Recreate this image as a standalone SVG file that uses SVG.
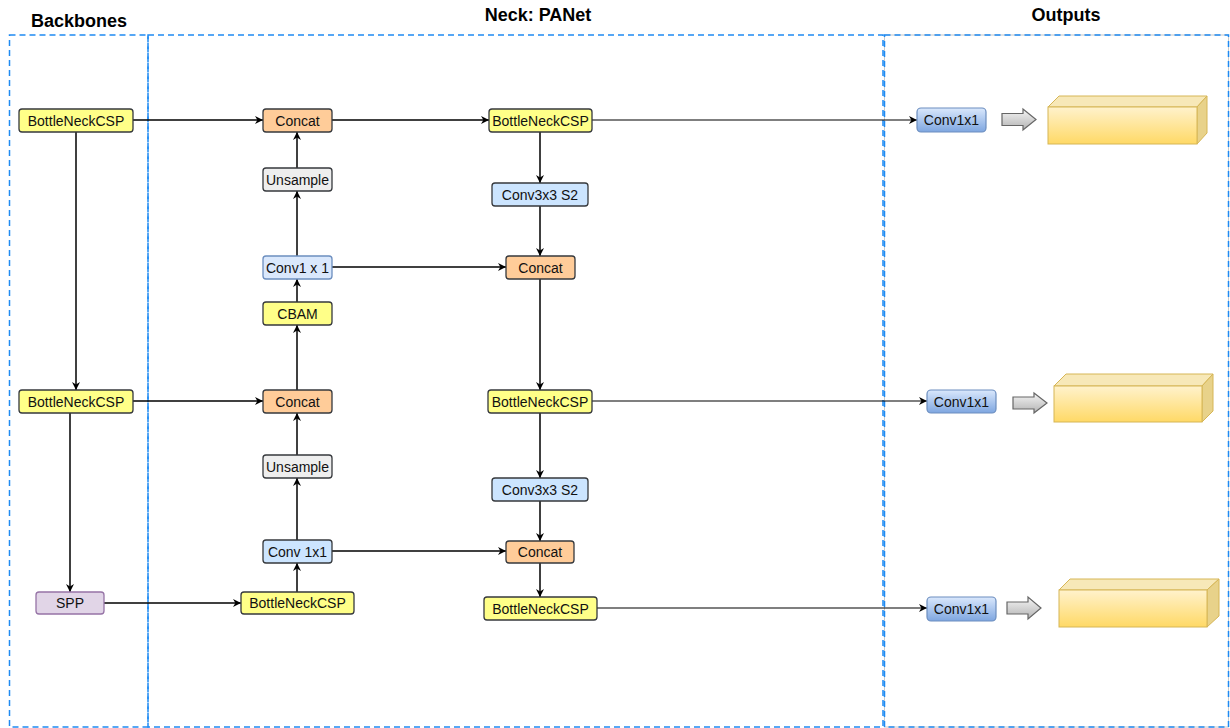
<svg xmlns="http://www.w3.org/2000/svg" width="1230" height="728" viewBox="0 0 1230 728">
  <style>
    .frame { fill: none; stroke: #1f8af2; stroke-width: 1.5; stroke-dasharray: 6 4; }
    .title { font-family: "Liberation Sans", Arial, sans-serif; font-size: 18px; font-weight: bold; fill: #000; text-anchor: middle; }
    .lbl { font-family: "Liberation Sans", Arial, sans-serif; font-size: 14px; fill: #111; text-anchor: middle; dominant-baseline: central; }
    .box { stroke: #36393d; stroke-width: 1.3; }
    .yellow { fill: #ffff88; }
    .orange { fill: #ffcc99; }
    .grey { fill: #eeeeee; }
    .blue { fill: #cce5ff; }
    .blue2 { fill: #dae8fc; stroke: #6c8ebf; stroke-width: 1.3; }
    .purple { fill: #e1d5e7; stroke: #9673a6; stroke-width: 1.3; }
    .outconv { fill: url(#gConv); stroke: #6c8ebf; stroke-width: 1.2; }
    .wire { fill: none; stroke: #000; stroke-width: 1.5; marker-end: url(#arr); }
    .wire.thin { stroke-width: 1.2; }
    .blockarrow { fill: url(#gArrow); stroke: #666666; stroke-width: 1.2; }
    .cubefront { fill: url(#gCube); stroke: #d6b656; stroke-width: 1; }
    .cubetop { fill: #f7e8b8; stroke: #d6b656; stroke-width: 1; }
    .cubeside { fill: #e8d28a; stroke: #d6b656; stroke-width: 1; }
  </style>
  <defs>
    <marker id="arr" viewBox="0 0 10 10" refX="10" refY="5" markerWidth="9" markerHeight="8" markerUnits="userSpaceOnUse" orient="auto">
      <path d="M0,0 L10,5 L0,10 L3,5 z" fill="#000"/>
    </marker>
    <linearGradient id="gConv" x1="0" y1="0" x2="0" y2="1">
      <stop offset="0" stop-color="#dae8fc"/>
      <stop offset="1" stop-color="#7ea6e0"/>
    </linearGradient>
    <linearGradient id="gArrow" x1="0" y1="0" x2="0" y2="1">
      <stop offset="0" stop-color="#f5f5f5"/>
      <stop offset="1" stop-color="#b3b3b3"/>
    </linearGradient>
    <linearGradient id="gCube" x1="0" y1="0" x2="0" y2="1">
      <stop offset="0" stop-color="#fff2cc"/>
      <stop offset="1" stop-color="#ffd966"/>
    </linearGradient>
  </defs>

  <rect width="1230" height="728" fill="#ffffff"/>

  <!-- section frames -->
  <g id="frames">
    <rect x="884.5" y="35" width="344" height="692" fill="none" stroke="#c8c8c8" stroke-width="1"/>
    <rect class="frame" x="9.5" y="35" width="138.5" height="692"/>
    <rect class="frame" x="148" y="35" width="735" height="692"/>
    <rect class="frame" x="884.5" y="35" width="344" height="692"/>
    <text class="title" x="79" y="27">Backbones</text>
    <text class="title" x="538" y="21">Neck: PANet</text>
    <text class="title" x="1066" y="21">Outputs</text>
  </g>

  <!-- connectors -->
  <g id="connectors">
    <path class="wire" d="M133,120 H263"/>
    <path class="wire" d="M332,120 H489"/>
    <path class="wire thin" d="M592,120 H917"/>
    <path class="wire" d="M76,132 V390"/>
    <path class="wire" d="M70,413 V592"/>
    <path class="wire" d="M133,401 H263"/>
    <path class="wire" d="M104,603 H241"/>
    <path class="wire" d="M297,592 V563"/>
    <path class="wire" d="M297,540 V478"/>
    <path class="wire" d="M297,455 V413"/>
    <path class="wire" d="M297,390 V325"/>
    <path class="wire" d="M297,302 V279"/>
    <path class="wire" d="M297,256 V191"/>
    <path class="wire" d="M297,168 V132"/>
    <path class="wire" d="M332,267 H506"/>
    <path class="wire" d="M540,132 V183"/>
    <path class="wire" d="M540,206 V256"/>
    <path class="wire" d="M540,279 V390"/>
    <path class="wire thin" d="M592,401 H927"/>
    <path class="wire" d="M540,413 V478"/>
    <path class="wire" d="M540,501 V541"/>
    <path class="wire" d="M332,551 H506"/>
    <path class="wire" d="M540,563 V597"/>
    <path class="wire thin" d="M597,608 H927"/>
  </g>

  <!-- backbone nodes -->
  <g id="bb-csp1"><rect class="box yellow" x="19" y="109" width="114" height="23" rx="3"/><text class="lbl" x="76" y="120.5">BottleNeckCSP</text></g>
  <g id="bb-csp2"><rect class="box yellow" x="19" y="390" width="114" height="23" rx="3"/><text class="lbl" x="76" y="401.5">BottleNeckCSP</text></g>
  <g id="bb-spp"><rect class="purple" x="36" y="592" width="68" height="22" rx="3"/><text class="lbl" x="70" y="603">SPP</text></g>

  <!-- neck: top-down path -->
  <g id="concat-a"><rect class="box orange" x="263" y="109" width="69" height="23" rx="3"/><text class="lbl" x="297.5" y="120.5">Concat</text></g>
  <g id="upsample-a"><rect class="box grey" x="263" y="168" width="69" height="23" rx="3"/><text class="lbl" x="297.5" y="179.5">Unsample</text></g>
  <g id="conv1x1-a"><rect class="blue2" x="263" y="256" width="69" height="23" rx="3"/><text class="lbl" x="297.5" y="267.5">Conv1 x 1</text></g>
  <g id="cbam"><rect class="box yellow" x="263" y="302" width="69" height="23" rx="3"/><text class="lbl" x="297.5" y="313.5">CBAM</text></g>
  <g id="concat-b"><rect class="box orange" x="263" y="390" width="69" height="23" rx="3"/><text class="lbl" x="297.5" y="401.5">Concat</text></g>
  <g id="upsample-b"><rect class="box grey" x="263" y="455" width="69" height="23" rx="3"/><text class="lbl" x="297.5" y="466.5">Unsample</text></g>
  <g id="conv1x1-b"><rect class="box blue" x="263" y="540" width="69" height="23" rx="3"/><text class="lbl" x="297.5" y="551.5">Conv 1x1</text></g>
  <g id="neck-csp-in"><rect class="box yellow" x="241" y="592" width="113" height="22" rx="3"/><text class="lbl" x="297.5" y="603">BottleNeckCSP</text></g>

  <!-- neck: bottom-up path -->
  <g id="neck-csp1"><rect class="box yellow" x="489" y="109" width="103" height="23" rx="3"/><text class="lbl" x="540.5" y="120.5">BottleNeckCSP</text></g>
  <g id="conv3x3-a"><rect class="box blue" x="492" y="183" width="96" height="23" rx="3"/><text class="lbl" x="540" y="194.5">Conv3x3 S2</text></g>
  <g id="concat-c"><rect class="box orange" x="506" y="256" width="69" height="23" rx="3"/><text class="lbl" x="540.5" y="267.5">Concat</text></g>
  <g id="neck-csp2"><rect class="box yellow" x="488" y="390" width="104" height="23" rx="3"/><text class="lbl" x="540" y="401.5">BottleNeckCSP</text></g>
  <g id="conv3x3-b"><rect class="box blue" x="492" y="478" width="96" height="23" rx="3"/><text class="lbl" x="540" y="489.5">Conv3x3 S2</text></g>
  <g id="concat-d"><rect class="box orange" x="506" y="541" width="68" height="22" rx="3"/><text class="lbl" x="540" y="552">Concat</text></g>
  <g id="neck-csp3"><rect class="box yellow" x="484" y="597" width="113" height="23" rx="3"/><text class="lbl" x="540.5" y="608.5">BottleNeckCSP</text></g>

  <!-- output heads -->
  <g id="head-1">
    <rect class="outconv" x="917" y="108" width="69" height="24" rx="4"/><text class="lbl" x="951.5" y="120">Conv1x1</text>
    <polygon class="blockarrow" points="1002,113.5 1023,113.5 1023,109 1036,119.5 1023,130 1023,125.5 1002,125.5"/>
    <polygon class="cubetop" points="1048,107 1059,96 1207,96 1197,107"/>
    <polygon class="cubeside" points="1197,107 1207,96 1207,133 1197,144"/>
    <rect class="cubefront" x="1048" y="107" width="149" height="37"/>
  </g>
  <g id="head-2">
    <rect class="outconv" x="927" y="390" width="69" height="23" rx="4"/><text class="lbl" x="961.5" y="401.5">Conv1x1</text>
    <polygon class="blockarrow" points="1013,397 1034,397 1034,393 1047,403 1034,413 1034,409 1013,409"/>
    <polygon class="cubetop" points="1054,386 1066,374 1213,374 1202,386"/>
    <polygon class="cubeside" points="1202,386 1213,374 1213,411 1202,422"/>
    <rect class="cubefront" x="1054" y="386" width="148" height="36"/>
  </g>
  <g id="head-3">
    <rect class="outconv" x="927" y="597" width="69" height="24" rx="4"/><text class="lbl" x="961.5" y="609">Conv1x1</text>
    <polygon class="blockarrow" points="1007,602 1028,602 1028,597 1041,608 1028,619 1028,614 1007,614"/>
    <polygon class="cubetop" points="1059,590 1070,579 1219,579 1207,590"/>
    <polygon class="cubeside" points="1207,590 1219,579 1219,616 1207,627"/>
    <rect class="cubefront" x="1059" y="590" width="148" height="37"/>
  </g>
</svg>
